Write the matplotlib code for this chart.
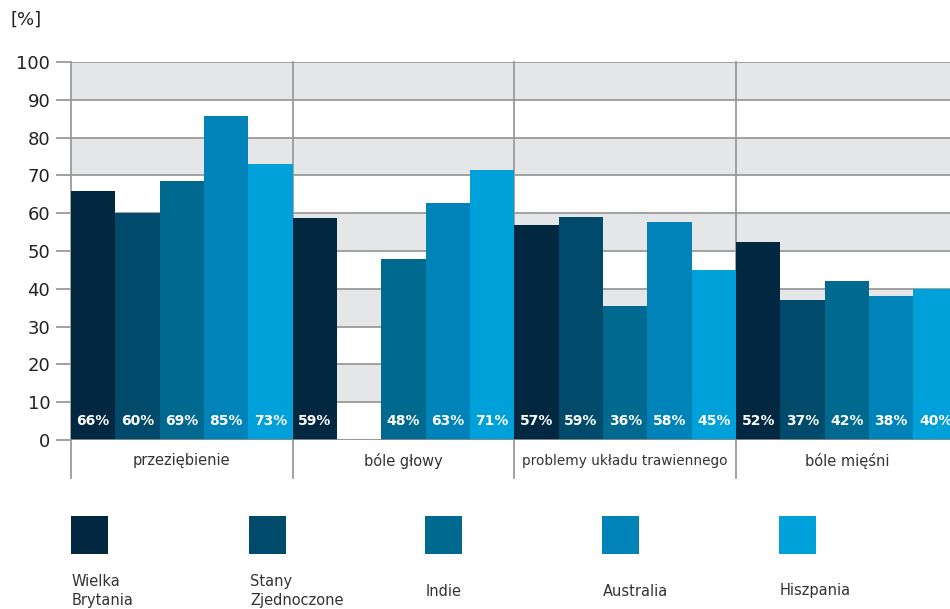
import matplotlib
matplotlib.use('Agg')
import matplotlib.pyplot as plt
import numpy as np

# dane
categories = ['przeziębienie', 'bóle głowy', 'problemy układu trawiennego', 'bóle mięśni']
countries = ['Wielka\nBrytania', 'Stany\nZjednoczone', 'Indie', 'Australia', 'Hiszpania']
colors = ['#012840', '#004b6c', '#00698f', '#0083b8', '#00a0da']

uk = [66, 58.7, 57, 52.4]
usa = [60, 0, 59, 37]
india = [68.5, 48, 35.5, 42]
australia = [85.7, 62.7, 57.7, 38]
spain = [73, 71.4, 45, 40]
series = [uk, usa, india, australia, spain]

labels_uk = ['66%', '59%', '57%', '52%']
labels_usa = ['60%', '', '59%', '37%']
labels_india = ['69%', '48%', '36%', '42%']
labels_australia = ['85%', '63%', '58%', '38%']
labels_spain = ['73%', '71%', '45%', '40%']
labels = [labels_uk, labels_usa, labels_india, labels_australia, labels_spain]

fig = plt.figure(figsize=(9.5, 6.09), dpi=100)
ax = fig.add_axes([71 / 950, 1 - 440 / 609, 879 / 950, 378 / 609])

# pasy tła
for lo in range(10, 100, 20):
    ax.axhspan(lo, lo + 10, color='#e5e6e8', zorder=0, lw=0)
for y in range(10, 101, 10):
    ax.axhline(y, color='#9a9a9a', lw=1.3, zorder=1)

w = 0.2
x = np.arange(len(categories))
for j, (vals, labs) in enumerate(zip(series, labels)):
    bars = ax.bar(x + j * w, vals, width=w, align='edge', color=colors[j], zorder=2, lw=0)
    for b, lab in zip(bars, labs):
        ax.text(b.get_x() + b.get_width() / 2, 5, lab, ha='center', va='center',
                color='white', fontsize=10, fontweight='bold', zorder=3)

# pionowe linie między grupami
cat_sizes = [10.5, 10.5, 9.8, 10.5]
for g in range(len(categories)):
    ax.axvline(g, ymin=-0.1, ymax=1, color='#9a9a9a', lw=1.3, clip_on=False, zorder=1)
    ax.text(g + 0.5, -5.5, categories[g], ha='center', va='center', fontsize=cat_sizes[g],
            color='#333333')

ax.axhline(0, color='#8a8a8a', lw=2, zorder=4)

ax.set_xlim(0, 879 / 221.7)
ax.set_ylim(0, 100)
ax.set_yticks(range(0, 101, 10))
ax.tick_params(axis='y', length=11, width=1.3, color='#9a9a9a', labelsize=13,
               labelcolor='#222222', pad=4)
ax.set_xticks([])
for s in ax.spines.values():
    s.set_visible(False)

fig.text(10 / 950, 1 - 20 / 609, '[%]', fontsize=13, color='#222222', va='center', ha='left')

# legenda
leg_x = [71, 249, 425, 602, 779]
for lx, c, name in zip(leg_x, colors, countries):
    fig.patches.append(plt.Rectangle((lx / 950, 1 - 554 / 609), 37 / 950, 38 / 609,
                                     transform=fig.transFigure, color=c, lw=0))
    fig.text((lx + 1) / 950, 1 - 591 / 609, name, fontsize=10.5, color='#333333',
             ha='left', va='center', linespacing=1.3)

fig.savefig('out.png', dpi=100)
